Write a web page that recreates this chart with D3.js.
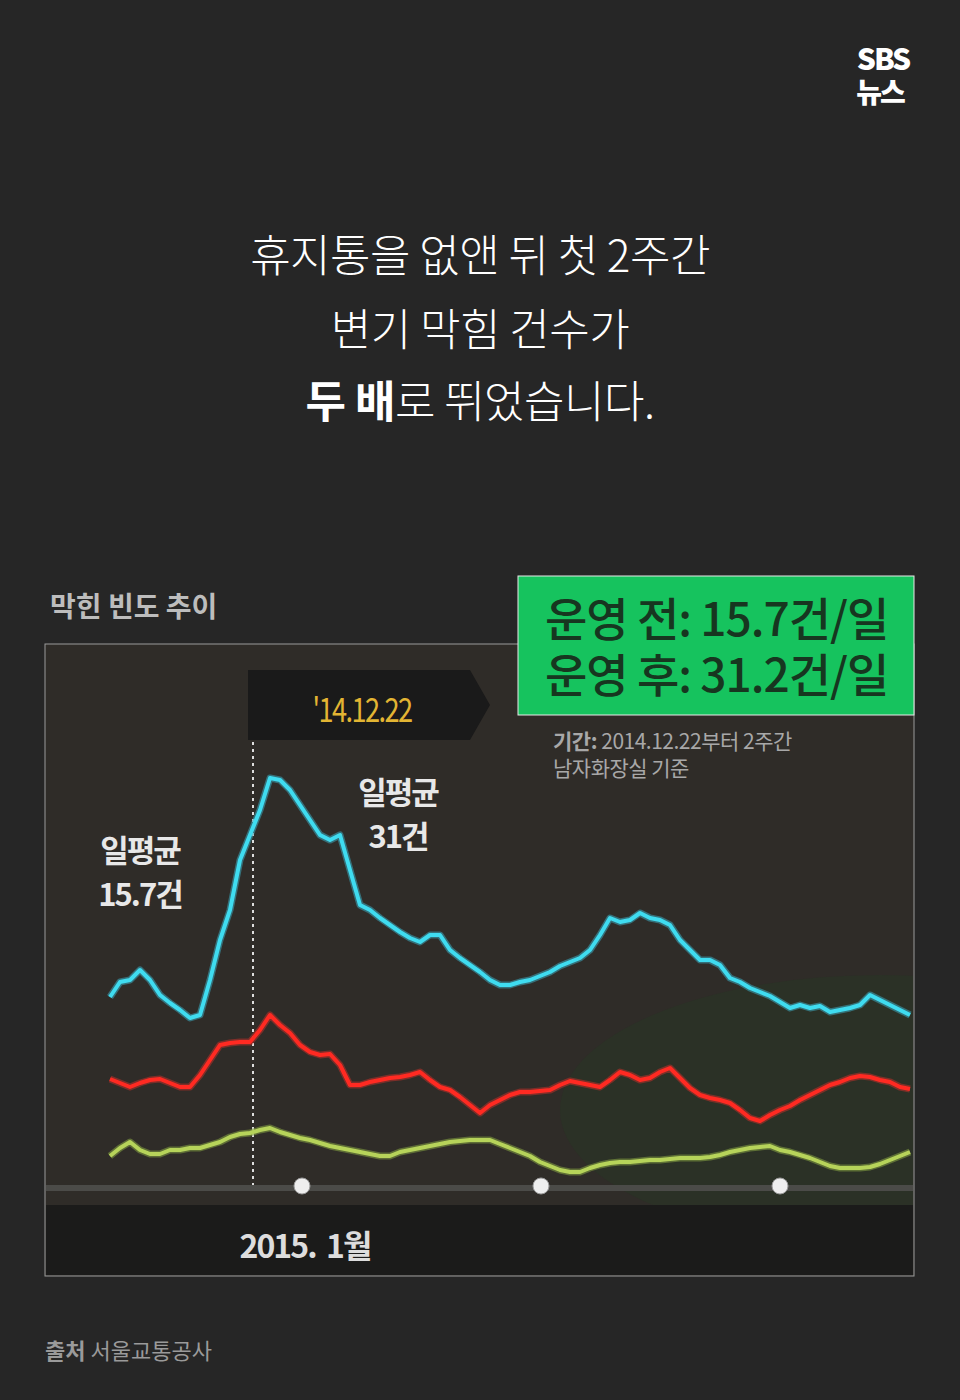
<!DOCTYPE html>
<html><head><meta charset="utf-8">
<script src="https://cdn.jsdelivr.net/npm/d3@7"></script>
<style>body{margin:0;background:#262626}svg{display:block}</style>
</head><body><div id="chart"></div>
<script>
// daily blockage counts, sampled evenly across the period (index 0..80)
const blue = [20.3,21.8,22,23,22,20.5,19.7,19,18.2,18.5,22,26,29,34,36.5,39,42.2,42,41,39.5,38,36.5,36,36.5,33,29.5,29,28.2,27.5,26.8,26.2,25.8,26.5,26.5,25,24.2,23.5,22.8,22,21.5,21.5,21.8,22,22.4,22.8,23.4,23.8,24.2,25,26.5,28.2,27.8,28,28.7,28.2,28,27.5,26,25,24,24,23.5,22.2,21.8,21.2,20.8,20.4,19.8,19.2,19.5,19.2,19.4,18.8,19,19.2,19.5,20.5,20,19.5,19,18.5];
const red = [12.1,11.7,11.3,11.7,12,12.1,11.7,11.3,11.3,12.5,14,15.5,15.7,15.8,15.8,17,18.5,17.5,16.7,15.5,14.8,14.5,14.6,13.5,11.5,11.5,11.8,12,12.2,12.3,12.5,12.8,12,11.3,11,10.3,9.5,8.7,9.5,10,10.5,10.8,10.8,10.9,11,11.5,11.9,11.7,11.5,11.3,12,12.8,12.5,12,12.2,12.8,13.2,12.2,11.2,10.5,10.2,10,9.7,9,8.2,7.9,8.5,9,9.4,10,10.5,11,11.5,11.8,12.2,12.4,12.3,12,11.8,11.3,11.1];
const green = [4.4,5.2,5.8,5,4.6,4.6,5,5,5.2,5.2,5.5,5.8,6.3,6.6,6.7,7,7.2,6.8,6.5,6.2,6,5.7,5.4,5.2,5,4.8,4.6,4.4,4.4,4.8,5,5.2,5.4,5.6,5.8,5.9,6,6,6,5.6,5.2,4.8,4.4,3.8,3.4,3,2.8,2.8,3.2,3.5,3.7,3.8,3.8,3.9,4,4,4.1,4.2,4.2,4.2,4.3,4.5,4.8,5,5.2,5.3,5.4,5,4.8,4.5,4.2,3.8,3.4,3.2,3.2,3.2,3.3,3.6,4,4.4,4.8];
const startIdx = 14.3;          // '14.12.22
const tickIdx = [19.2, 43.1, 67];
const titleLines = ['휴지통을 없앤 뒤 첫 2주간', '변기 막힘 건수가'];

const W = 960, H = 1400;
const F = "'Noto Sans CJK KR','Noto Sans',sans-serif";
const svg = d3.select('#chart').append('svg').attr('width', W).attr('height', H);
svg.append('rect').attr('width', W).attr('height', H).attr('fill', '#262626');

// logo
const logo = svg.append('g').attr('font-family', F).attr('font-weight', 900).attr('fill', '#fff').attr('text-anchor', 'middle');
logo.append('text').attr('x', 883).attr('y', 70).attr('font-size', 30).attr('letter-spacing', -2).text('SBS');
logo.append('text').attr('x', 880).attr('y', 103).attr('font-size', 28).attr('letter-spacing', -2).text('뉴스');

// title
const t = svg.append('g').attr('font-family', F).attr('fill', '#fff').attr('text-anchor', 'middle').attr('font-size', 44);
titleLines.forEach((s, i) => t.append('text').attr('x', 480).attr('y', 272 + i * 74).attr('font-weight', 300).attr('letter-spacing', -0.5).text(s));
const l3 = t.append('text').attr('x', 480).attr('y', 418).attr('letter-spacing', -0.5);
l3.append('tspan').attr('font-weight', 700).text('두 배');
l3.append('tspan').attr('font-weight', 300).text('로 뛰었습니다.');

svg.append('text').attr('x', 50).attr('y', 617).attr('font-family', F).attr('font-size', 28).attr('font-weight', 700)
  .attr('fill', '#bdbdbd').attr('letter-spacing', 0).text('막힌 빈도 추이');

// chart panel
const px0 = 45, py0 = 644, px1 = 914, py1 = 1276;
svg.append('rect').attr('x', px0).attr('y', py0).attr('width', px1 - px0).attr('height', py1 - py0).attr('fill', '#2f2c28').attr('stroke', '#9a9a9a').attr('stroke-width', 1);
svg.append('clipPath').attr('id', 'pc').append('rect').attr('x', px0 + 1).attr('y', py0 + 1).attr('width', px1 - px0 - 2).attr('height', py1 - py0 - 2);
const g = svg.append('g').attr('clip-path', 'url(#pc)');
g.append('ellipse').attr('cx', 880).attr('cy', 1110).attr('rx', 320).attr('ry', 135).attr('fill', '#2b3126');
g.append('rect').attr('x', px0).attr('y', 1205).attr('width', px1 - px0).attr('height', 75).attr('fill', '#1b1b1a');
g.append('rect').attr('x', px0).attr('y', 1185).attr('width', px1 - px0).attr('height', 6).attr('fill', '#4b4b48');

const x = d3.scaleLinear().domain([0, 80]).range([110, 910]);
const y = d3.scaleLinear().domain([0, 60]).range([1200, 600]);
const line = d3.line().x((d, i) => x(i)).y(d => y(d));

// dotted start line + label
g.append('line').attr('x1', x(startIdx)).attr('x2', x(startIdx)).attr('y1', 700).attr('y2', 1185)
  .attr('stroke', '#ddd').attr('stroke-width', 2).attr('stroke-dasharray', '3,4');
g.append('path').attr('d', `M248,670H470L490,705L470,740H248Z`).attr('fill', '#1a1a1a');
g.append('text').attr('x', 362).attr('y', 722).attr('text-anchor', 'middle').attr('font-family', F).attr('font-size', 34)
  .attr('fill', '#e3b533').attr('letter-spacing', -2).attr('transform', 'translate(362,706) scale(0.8,1) translate(-362,-706)').text("'14.12.22");

[[green, '#b6d35a', '#7f9a40'], [red, '#ff2a22', '#b0302a'], [blue, '#3fdcf0', '#3a9fb0']].forEach(([d, c, glow]) => {
  g.append('path').datum(d).attr('d', line).attr('fill', 'none').attr('stroke', glow).attr('stroke-width', 7).attr('opacity', 0.6).attr('stroke-linejoin', 'round');
  g.append('path').datum(d).attr('d', line).attr('fill', 'none').attr('stroke', c).attr('stroke-width', 4).attr('stroke-linejoin', 'round');
});

g.selectAll('circle.tk').data(tickIdx).join('circle').attr('cx', d => x(d)).attr('cy', 1186).attr('r', 8).attr('fill', '#eee').attr('stroke', '#999');

const ann = g.append('g').attr('font-family', F).attr('fill', '#e8e8e8').attr('font-weight', 700).attr('text-anchor', 'middle').attr('font-size', 31).attr('letter-spacing', -2);
ann.append('text').attr('x', 140).attr('y', 862).text('일평균');
ann.append('text').attr('x', 140).attr('y', 906).text('15.7건');
ann.append('text').attr('x', 398).attr('y', 804).text('일평균');
ann.append('text').attr('x', 398).attr('y', 848).text('31건');
g.append('text').attr('x', 305).attr('y', 1258).attr('text-anchor', 'middle').attr('font-family', F).attr('font-weight', 700)
  .attr('font-size', 32).attr('fill', '#ddd').attr('letter-spacing', -2).text('2015.\u00a0\u00a01월');

// green box
svg.append('rect').attr('x', 518).attr('y', 576).attr('width', 396).attr('height', 139).attr('fill', '#16c35e').attr('stroke', '#e8e8e8').attr('stroke-width', 1);
const gb = svg.append('g').attr('font-family', F).attr('fill', '#173620').attr('font-size', 46).attr('font-weight', 500).attr('letter-spacing', -1);
gb.append('text').attr('x', 545).attr('y', 636).text('운영 전: 15.7건/일');
gb.append('text').attr('x', 545).attr('y', 692).text('운영 후: 31.2건/일');

const note = svg.append('g').attr('font-family', F).attr('fill', '#a8a8a8').attr('font-size', 21).attr('letter-spacing', -0.5);
const n1 = note.append('text').attr('x', 553).attr('y', 749);
n1.append('tspan').attr('font-weight', 700).text('기간: ');
n1.append('tspan').text('2014.12.22부터 2주간');
note.append('text').attr('x', 553).attr('y', 776).text('남자화장실 기준');

const src = svg.append('text').attr('x', 45).attr('y', 1359).attr('font-family', F).attr('font-size', 22).attr('fill', '#9a9a9a').attr('letter-spacing', 0);
src.append('tspan').attr('font-weight', 700).text('출처 ');
src.append('tspan').text('서울교통공사');
</script></body></html>
